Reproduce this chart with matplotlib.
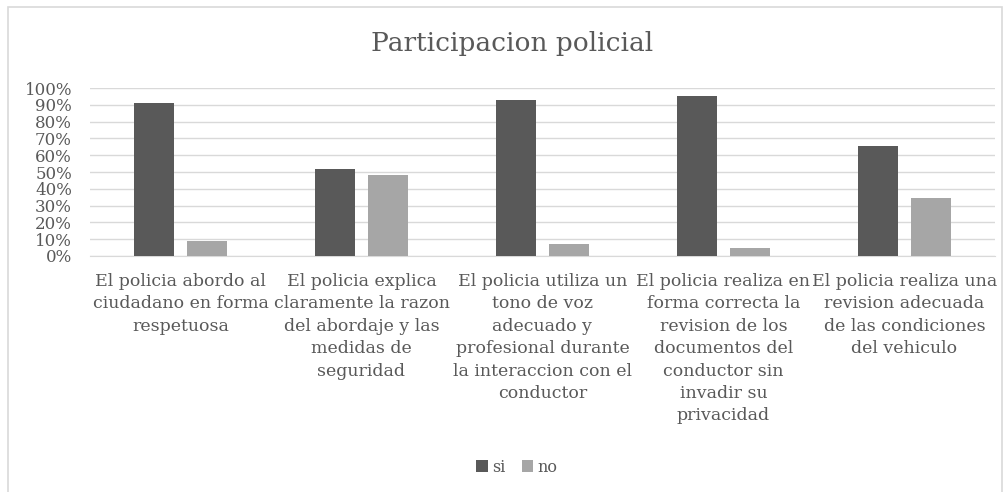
import numpy as np
import matplotlib.pyplot as plt
from matplotlib.patches import Rectangle

categorias = [
    "El policia abordo al\nciudadano en forma\nrespetuosa",
    "El policia explica\nclaramente la razon\ndel abordaje y las\nmedidas de\nseguridad",
    "El policia utiliza un\ntono de voz\nadecuado y\nprofesional durante\nla interaccion con el\nconductor",
    "El policia realiza en\nforma correcta la\nrevision de los\ndocumentos del\nconductor sin\ninvadir su\nprivacidad",
    "El policia realiza una\nrevision adecuada\nde las condiciones\ndel vehiculo",
]
si = [91, 52, 93, 95, 65.5]
no = [9, 48, 7, 5, 34.5]

gris_txt = "#595959"
plt.rcParams['font.family'] = ['DejaVu Serif']

fig = plt.figure(figsize=(10.04, 4.92), dpi=100)
fig.patches.append(Rectangle((8/1004, -0.01), 994/1004, 1 - 7/492 + 0.01,
                             transform=fig.transFigure, fill=False,
                             edgecolor="#d9d9d9", linewidth=1.2))
ax = fig.add_axes([90/1004, 1 - 256/492, 905/1004, 168/492])

x = np.arange(len(categorias))
w = 0.22
ax.bar(x - 0.145, si, w, color="#595959", label="si", zorder=3)
ax.bar(x + 0.145, no, w, color="#a6a6a6", label="no", zorder=3)

ax.set_xlim(-0.5, len(categorias) - 0.5)
ax.set_ylim(0, 100)
ax.set_yticks(range(0, 101, 10))
ax.set_yticklabels([f"{v}%" for v in range(0, 101, 10)], color=gris_txt, fontsize=12)
ax.yaxis.grid(True, color="#d9d9d9", linewidth=1)
ax.set_axisbelow(True)
ax.set_xticks(x)
ax.set_xticklabels(categorias, color=gris_txt, fontsize=12.5, linespacing=1.42, va="top")
ax.tick_params(axis="y", length=0, pad=13)
ax.tick_params(axis="x", length=0, pad=12)
for s in ["top", "right", "left"]:
    ax.spines[s].set_visible(False)
ax.spines["bottom"].set_color("#d9d9d9")

fig.text(0.51, 1 - 43/492, "Participacion policial", ha="center", va="center",
         fontsize=19, color=gris_txt)
fig.legend(loc="center", bbox_to_anchor=(0.515, 1 - 467/492), ncol=2, frameon=False,
           fontsize=11.5, labelcolor=gris_txt, handlelength=0.7, handleheight=0.7,
           handletextpad=0.3, columnspacing=1.0)

fig.savefig("out.png", dpi=100)
